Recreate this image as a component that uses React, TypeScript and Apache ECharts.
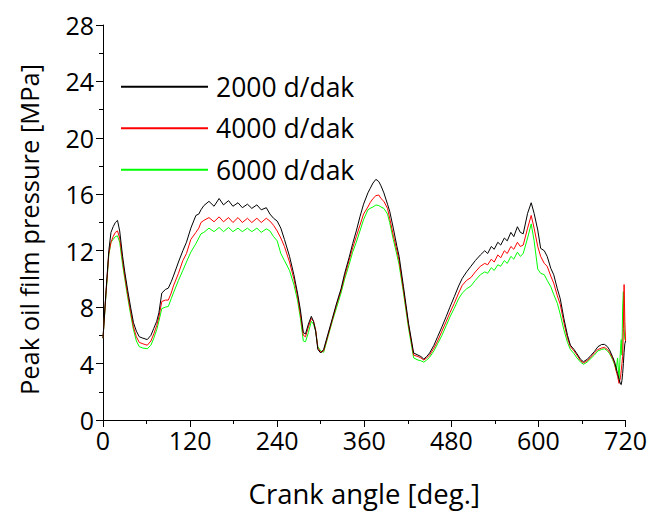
import React, { useEffect, useRef } from "react";
import * as echarts from "echarts";

const angles = [0,4,8,11,14,17,20,23,27,30,34,38,42,46,50,55,61,66,70,74,77,81,86,90,94,97,104,110,115,121,128,132,135,139,146,153,160,166,173,179,186,192,199,205,212,218,225,230,235,240,245,250,257,263,268,272,276,279,283,287,290,293,296,300,304,310,316,322,328,333,339,344,349,354,359,365,368,372,376,380,383,387,392,395,400,405,408,414,421,428,434,438,442,446,450,456,461,467,473,478,484,490,495,501,507,513,520,526,530,535,539,544,548,553,557,562,566,571,575,579,585,590,594,599,603,608,612,617,621,626,630,635,640,644,649,653,658,662,667,671,677,682,687,691,695,698,702,705,707,709,711,713,714,715,716,717,718,719,720];

const rpm2000 = [5.8,9.0,12.0,13.3,13.7,14.0,14.15,13.4,11.6,10.5,9.2,8.0,6.9,6.3,5.9,5.8,5.7,6.0,6.5,7.0,7.6,9.0,9.25,9.35,9.8,10.2,11.2,12.0,12.6,13.6,14.5,14.6,14.9,15.2,15.5,15.15,15.7,15.25,15.55,15.15,15.4,15.05,15.3,15.0,15.25,14.9,15.05,14.6,14.3,14.1,13.6,12.8,11.6,10.3,9.0,7.8,6.2,6.1,6.8,7.35,7.0,6.3,5.0,4.75,5.0,6.1,7.2,8.3,9.3,10.4,11.5,12.5,13.4,14.4,15.3,16.1,16.4,16.8,17.06,16.9,16.6,16.1,15.3,14.8,13.6,12.3,11.6,9.45,6.85,4.75,4.6,4.5,4.32,4.5,4.75,5.3,5.9,6.6,7.35,8.0,8.74,9.5,10.04,10.5,10.9,11.3,11.7,12.0,11.8,12.3,12.1,12.6,12.4,12.9,12.7,13.3,13.0,13.7,13.3,13.2,14.65,15.4,14.65,13.47,12.17,12.0,11.6,10.75,10.3,9.3,8.6,7.2,6.0,5.3,5.0,4.7,4.3,4.13,4.3,4.5,4.85,5.2,5.35,5.36,5.2,4.96,4.5,4.1,3.7,3.3,2.9,2.55,2.5,2.8,3.3,4.0,4.8,5.4,5.6];

const rpm4000 = [5.8,8.9,11.8,12.6,13.0,13.3,13.4,12.9,11.3,10.2,8.9,7.7,6.6,5.9,5.5,5.4,5.3,5.6,6.1,6.7,7.3,8.4,8.5,8.5,9.0,9.5,10.4,11.3,11.8,12.8,13.3,13.6,14.0,14.15,14.35,14.05,14.4,14.05,14.35,14.0,14.35,14.0,14.3,14.0,14.3,14.0,14.3,14.1,13.8,13.4,12.9,12.3,11.2,10.0,8.8,7.5,6.0,5.9,6.6,7.2,7.0,6.4,5.1,4.8,4.9,6.0,7.1,8.2,9.2,10.2,11.3,12.2,13.0,13.8,14.6,15.1,15.4,15.7,15.9,15.95,15.7,15.5,15.0,14.3,13.1,12.0,11.3,9.2,6.7,4.6,4.5,4.4,4.25,4.4,4.6,5.1,5.6,6.3,7.0,7.6,8.27,9.0,9.55,9.9,10.1,10.5,10.9,11.1,11.0,11.4,11.2,11.7,11.5,12.0,11.8,12.3,12.1,12.6,12.3,12.4,13.6,14.5,13.6,12.3,11.6,11.1,10.9,10.2,9.7,8.8,8.2,6.9,5.8,5.2,4.9,4.6,4.2,4.05,4.2,4.4,4.75,5.0,5.1,5.15,5.0,4.8,4.4,4.0,3.5,3.1,2.6,3.0,3.5,4.0,4.5,6.5,9.6,7.0,5.6];

const rpm6000 = [5.8,8.8,11.7,12.6,12.8,13.0,13.05,12.6,11.0,10.0,8.7,7.5,6.4,5.6,5.2,5.1,5.05,5.3,5.8,6.4,7.0,7.9,8.0,8.05,8.6,9.0,9.9,10.6,11.2,11.9,12.5,12.9,13.2,13.3,13.6,13.35,13.65,13.35,13.65,13.35,13.6,13.35,13.6,13.35,13.6,13.3,13.55,13.4,13.0,12.7,11.8,11.3,10.6,9.6,8.5,7.2,5.6,5.55,6.2,7.0,6.8,6.3,5.2,4.9,4.8,5.9,7.0,8.0,9.0,10.0,11.0,11.9,12.6,13.4,14.2,14.9,15.0,15.1,15.24,15.2,15.1,15.0,14.6,14.0,12.8,11.7,11.0,9.0,6.5,4.4,4.25,4.2,4.1,4.25,4.45,4.9,5.4,6.0,6.7,7.3,7.92,8.6,9.0,9.3,9.5,9.9,10.3,10.5,10.4,10.8,10.6,11.0,10.9,11.3,11.1,11.6,11.4,11.9,11.6,11.8,12.9,13.9,12.7,10.7,10.4,10.3,9.9,9.45,8.9,8.27,7.5,6.4,5.5,5.0,4.7,4.4,4.1,3.95,4.1,4.3,4.6,4.9,5.0,5.05,4.9,4.7,4.3,3.9,3.5,4.4,2.9,5.0,5.7,4.6,8.0,9.1,6.5,5.7,5.7];

const seriesNames = ["2000 d/dak", "4000 d/dak", "6000 d/dak"];
const seriesColors = ["#000000", "#ff0000", "#00ff00"];
const xTicks = { min: 0, max: 720, interval: 120 };
const yTicks = { min: 0, max: 28, interval: 4 };

const FONT = "'Open Sans', 'Noto Sans', sans-serif";

export default function App() {
  const ref = useRef<HTMLDivElement>(null);
  useEffect(() => {
    if (!ref.current) return;
    const chart = echarts.init(ref.current, undefined, { renderer: "svg" });
    const allValues = [rpm2000, rpm4000, rpm6000];
    const axisCommon = {
      axisLine: { show: true, lineStyle: { color: "#000", width: 1 } },
      axisTick: { show: true, length: 7, inside: false, lineStyle: { color: "#000", width: 1 } },
      minorTick: { show: true, splitNumber: 2, length: 4, lineStyle: { color: "#000", width: 1 } },
      splitLine: { show: false },
    };
    chart.setOption({
      animation: false,
      backgroundColor: "#fff",
      grid: { left: 92, right: 16, top: 17, bottom: 95, containLabel: false },
      legend: {
        orient: "vertical",
        left: 108,
        top: 58,
        itemWidth: 87,
        itemHeight: 2,
        itemGap: 10,
        icon: "rect",
        data: seriesNames,
        textStyle: { color: "#000", fontSize: 26.5, fontFamily: FONT, lineHeight: 31.5, padding: [0, 0, 0, 3] },
      },
      xAxis: {
        type: "value",
        min: xTicks.min,
        max: xTicks.max,
        interval: xTicks.interval,
        name: "Crank angle [deg.]",
        nameLocation: "middle",
        nameGap: 59,
        nameTextStyle: { color: "#000", fontSize: 27.5, fontFamily: FONT },
        axisLabel: { color: "#000", fontSize: 25, fontFamily: FONT, margin: 7 },
        ...axisCommon,
      },
      yAxis: {
        type: "value",
        min: yTicks.min,
        max: yTicks.max,
        interval: yTicks.interval,
        name: "Peak oil film pressure [MPa]",
        nameLocation: "middle",
        nameGap: 61,
        nameTextStyle: { color: "#000", fontSize: 25.5, fontFamily: FONT, padding: [0, 14, 0, 0] },
        axisLabel: { color: "#000", fontSize: 25, fontFamily: FONT, margin: 9 },
        ...axisCommon,
      },
      series: seriesNames.map((name, i) => ({
        name,
        type: "line",
        symbol: "none",
        showSymbol: false,
        data: angles.map((a, j) => [a, allValues[i][j]]),
        lineStyle: { color: seriesColors[i], width: 1 },
        itemStyle: { color: seriesColors[i] },
        z: 3 - i,
      })),
    });
    return () => chart.dispose();
  }, []);
  return <div ref={ref} style={{ width: 642, height: 507 }} />;
}
